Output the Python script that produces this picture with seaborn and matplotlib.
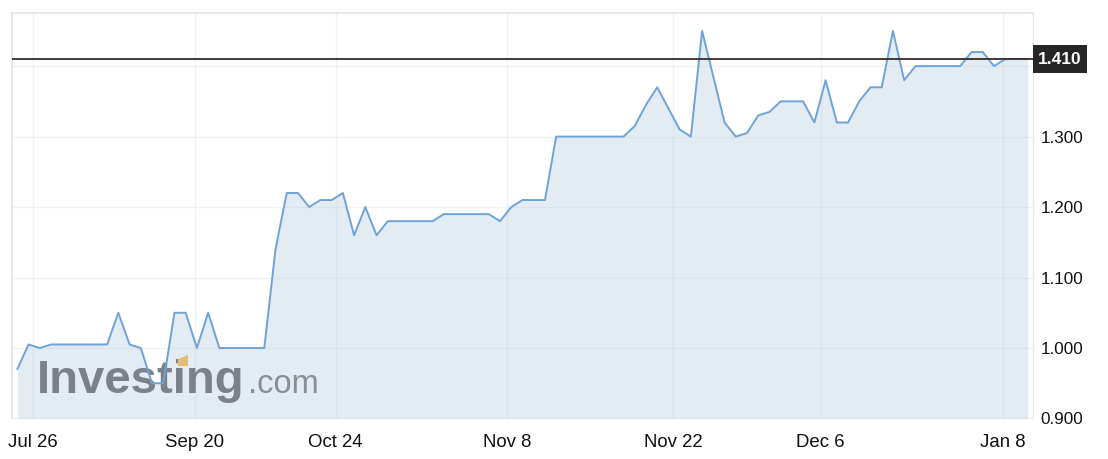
import matplotlib
matplotlib.use("Agg")
import matplotlib.pyplot as plt
import matplotlib.transforms as mtransforms
from matplotlib.patches import Rectangle, Polygon
import seaborn as sns
import pandas as pd
import numpy as np

# ---- data ----
prices = [0.97, 1.005, 1.0, 1.005, 1.005, 1.005, 1.005, 1.005, 1.005, 1.05,
          1.005, 1.0, 0.95, 0.95, 1.05, 1.05, 1.0, 1.05, 1.0, 1.0,
          1.0, 1.0, 1.0, 1.14, 1.22, 1.22, 1.2, 1.21, 1.21, 1.22,
          1.16, 1.2, 1.16, 1.18, 1.18, 1.18, 1.18, 1.18, 1.19, 1.19,
          1.19, 1.19, 1.19, 1.18, 1.2, 1.21, 1.21, 1.21, 1.3, 1.3,
          1.3, 1.3, 1.3, 1.3, 1.3, 1.315, 1.345, 1.37, 1.34, 1.31,
          1.30, 1.45, 1.385, 1.32, 1.30, 1.305, 1.33, 1.335, 1.35, 1.35,
          1.35, 1.32, 1.38, 1.32, 1.32, 1.35, 1.37, 1.37, 1.45, 1.38,
          1.40, 1.40, 1.40, 1.40, 1.40, 1.42, 1.42, 1.40, 1.41, 1.41,
          1.41]
tick_labels = ["Jul 26", "Sep 20", "Oct 24", "Nov 8", "Nov 22", "Dec 6", "Jan 8"]
tick_positions = [1.43, 15.83, 28.36, 43.64, 58.45, 71.56, 87.77]
y_ticks = [0.9, 1.0, 1.1, 1.2, 1.3, 1.4]
last_price = 1.41

df = pd.DataFrame({"idx": np.arange(len(prices)), "price": prices})

sns.set_theme(style="white")
plt.rcParams["font.family"] = ["Liberation Sans", "DejaVu Sans"]

W, H = 1108, 459
fig = plt.figure(figsize=(W / 100, H / 100), dpi=100)
fig.patch.set_facecolor("white")
left_px, right_px, top_px, bot_px = 11.5, 1032.5, 12.7, 418.5
ax = fig.add_axes([left_px / W, 1 - bot_px / H, (right_px - left_px) / W, (bot_px - top_px) / H])
ax.set_facecolor("white")

line_color = "#6ea3d8"
fill_color = "#e3ebf3"

ax.fill_between(df["idx"], df["price"], 0.9, color=fill_color, zorder=1, linewidth=0)
sns.lineplot(data=df, x="idx", y="price", ax=ax, color=line_color, linewidth=1.4, zorder=3)

ax.set_xlim(-0.517, 90.43)
ax.set_ylim(0.9, 1.4758)

# grid (semi-transparent so it shows faintly over the fill)
for yv in y_ticks:
    ax.axhline(yv, color="#c4c8d6", alpha=0.22, linewidth=1.0, zorder=1.5)
for xv in tick_positions:
    ax.axvline(xv, color="#c4c8d6", alpha=0.22, linewidth=1.0, zorder=1.5)

# last price line
ax.axhline(last_price, color="#3a2a2a", linewidth=1.3, zorder=4)

ax.set_xticks(tick_positions)
ax.set_xticklabels(tick_labels, fontsize=13.4, color="#111111")
ax.yaxis.tick_right()
ax.set_yticks(y_ticks)
ax.set_yticklabels([f"{v:.3f}" if abs(v - 1.4) > 1e-9 else "" for v in y_ticks],
                   fontsize=12.3, color="#111111")
ax.tick_params(axis="x", length=0, pad=11.5)
ax.tick_params(axis="y", length=0, pad=6)
ax.set_xlabel("")
ax.set_ylabel("")

for s in ["left", "top"]:
    ax.spines[s].set_color("#e3e3ee")
    ax.spines[s].set_linewidth(1.2)
ax.spines["right"].set_color("#e6e6ee")
ax.spines["right"].set_linewidth(1.0)
ax.spines["bottom"].set_visible(False)

# last price tag
trans = mtransforms.blended_transform_factory(ax.transAxes, ax.transData)
ax_w_px = right_px - left_px
px_per_unit = (bot_px - top_px) / (1.4758 - 0.9)
box_h = 27.3 / px_per_unit
box = Rectangle((1.0, last_price - box_h / 2), 54 / ax_w_px, box_h, transform=trans,
                facecolor="#262626", edgecolor="none", clip_on=False, zorder=6)
ax.add_patch(box)
ax.text(1.0 + 27.5 / ax_w_px, last_price, f"{last_price:.3f}", transform=trans,
        ha="center", va="center", fontsize=12.5, fontweight="semibold", color="white",
        zorder=7, clip_on=False)

# watermark
ax.text(36.7 / W, 1 - 393.3 / H, "Investing", transform=fig.transFigure,
        fontsize=34, fontweight="bold", color="#7b8089", ha="left", va="baseline", zorder=2)
ax.text(248.3 / W, 1 - 393.3 / H, ".com", transform=fig.transFigure,
        fontsize=23.5, color="#8a8f96", ha="left", va="baseline", zorder=2)
pts = [(178 / W, 1 - 366 / H), (188 / W, 1 - 366 / H), (188 / W, 1 - 355 / H), (178 / W, 1 - 359 / H)]
ax.add_patch(Polygon(pts, closed=True, transform=fig.transFigure, facecolor="#e6bb73",
                     edgecolor="none", zorder=2.1, clip_on=False))

fig.savefig("out.png", dpi=100, facecolor="white")
